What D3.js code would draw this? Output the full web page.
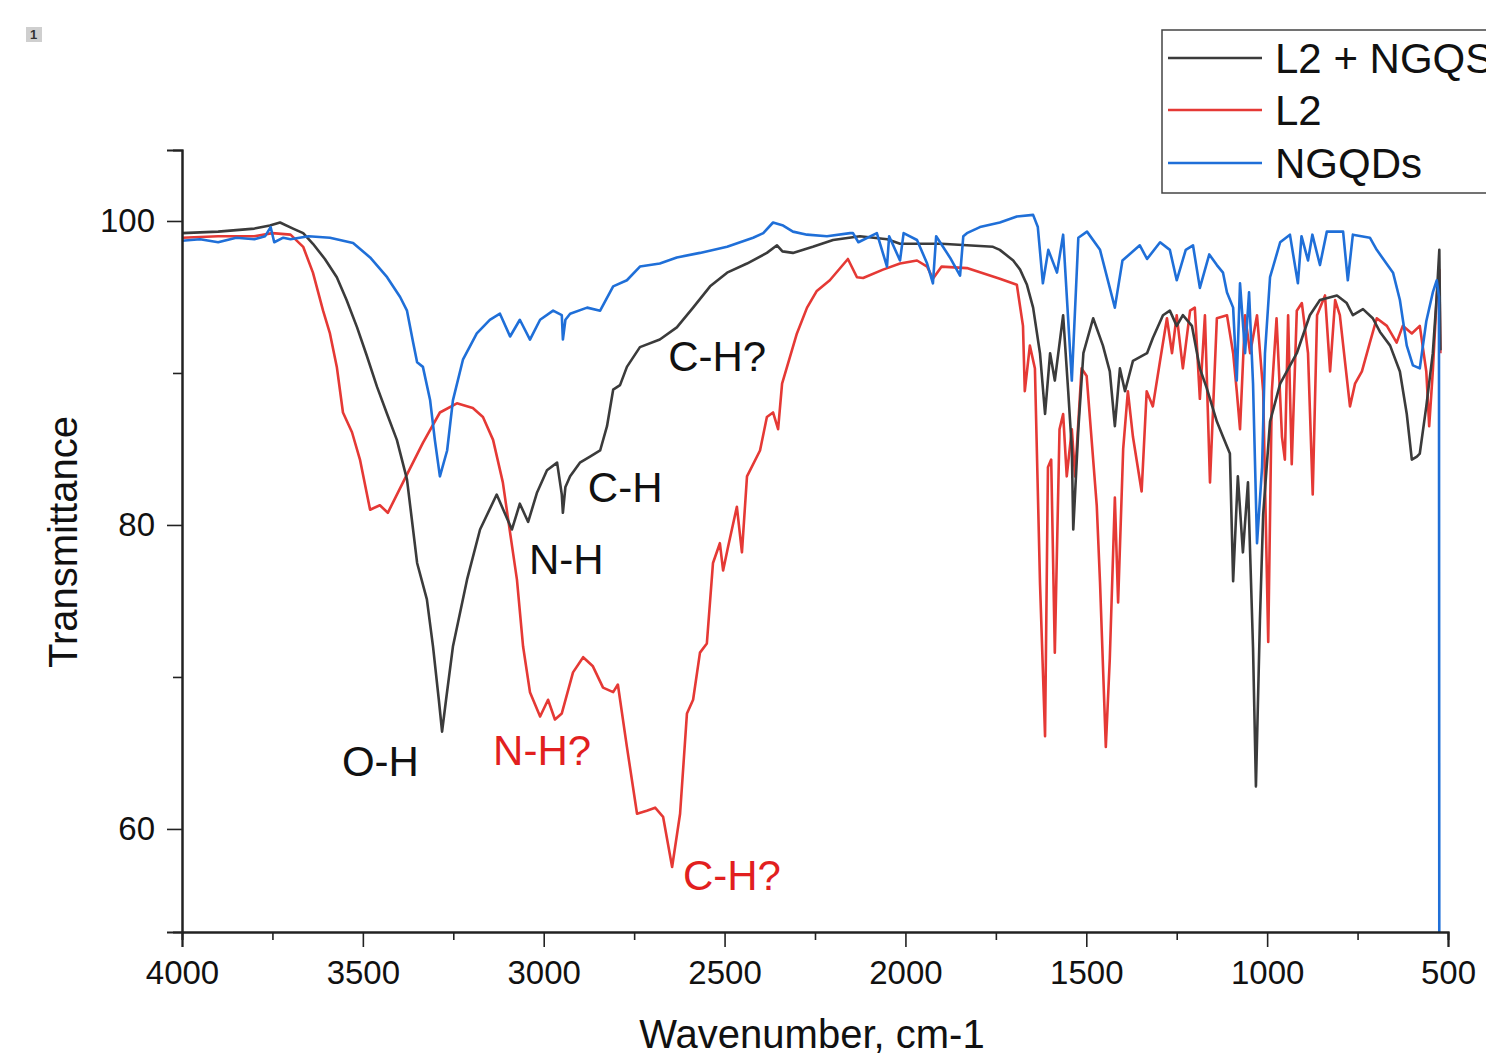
<!DOCTYPE html>
<html>
<head>
<meta charset="utf-8">
<script src="https://cdn.jsdelivr.net/npm/d3@7"></script>
<style>
  body { margin: 0; background: #fff; }
  svg text { font-family: "Liberation Sans", Arial, sans-serif; }
</style>
</head>
<body>
<svg></svg>

<script>

  // L2 + NGQS (dark grey)
  var wnMix = [4000, 3900, 3800, 3757, 3729, 3693, 3665, 3638, 3605, 3572, 3545, 3516, 3490, 3461, 3433, 3406, 3378, 3350, 3323, 3306, 3290, 3281, 3270, 3251, 3212, 3176, 3130, 3088, 3066, 3043, 3019, 2991, 2963, 2950, 2947, 2940, 2927, 2900, 2872, 2844, 2825, 2808, 2789, 2770, 2734, 2679, 2632, 2587, 2540, 2493, 2438, 2383, 2355, 2340, 2311, 2256, 2200, 2126, 2050, 2015, 1900, 1830, 1758, 1739, 1702, 1683, 1664, 1647, 1628, 1614, 1600, 1587, 1564, 1550, 1540, 1536, 1522, 1508, 1481, 1454, 1435, 1421, 1407, 1393, 1371, 1332, 1316, 1288, 1269, 1250, 1233, 1208, 1186, 1167, 1139, 1122, 1103, 1094, 1081, 1067, 1053, 1039, 1031, 1020, 1011, 992, 964, 918, 882, 854, 807, 780, 763, 735, 708, 688, 660, 633, 614, 600, 586, 578, 560, 542, 531, 524, 521];
  var tMix = [99.2, 99.3, 99.5, 99.7, 99.9, 99.5, 99.2, 98.5, 97.5, 96.3, 94.8, 93.0, 91.2, 89.1, 87.3, 85.6, 83.0, 77.5, 75.1, 72.0, 68.5, 66.4, 68.5, 72.0, 76.4, 79.7, 82.0, 79.7, 81.4, 80.2, 82.1, 83.6, 84.1, 82.0, 80.8, 82.5, 83.2, 84.1, 84.5, 84.9, 86.5, 88.9, 89.2, 90.4, 91.7, 92.2, 93.0, 94.3, 95.7, 96.6, 97.2, 97.9, 98.4, 98.0, 97.9, 98.3, 98.75, 99.0, 98.8, 98.5, 98.5, 98.4, 98.3, 98.1, 97.4, 96.8, 95.8, 94.3, 91.3, 87.3, 91.3, 89.5, 93.8, 88.8, 85.0, 79.7, 86.3, 91.3, 93.6, 91.8, 90.1, 86.5, 90.3, 88.8, 90.8, 91.3, 92.3, 93.8, 94.1, 93.1, 93.8, 93.1, 90.3, 89.0, 86.8, 85.8, 84.7, 76.3, 83.2, 78.2, 82.8, 71.9, 62.8, 73.7, 80.7, 86.8, 89.3, 91.3, 93.8, 94.8, 95.1, 94.6, 93.8, 94.2, 93.6, 92.7, 91.8, 90.1, 87.3, 84.3, 84.5, 84.7, 87.8, 91.3, 95.1, 98.1, 91.5];

  // L2 (red)
  var wnL2 = [4000, 3900, 3800, 3750, 3700, 3665, 3638, 3610, 3591, 3572, 3555, 3530, 3508, 3480, 3453, 3431, 3389, 3334, 3287, 3240, 3196, 3168, 3140, 3113, 3093, 3074, 3057, 3038, 3010, 2988, 2969, 2950, 2919, 2891, 2864, 2836, 2808, 2795, 2770, 2742, 2715, 2692, 2670, 2645, 2623, 2604, 2587, 2568, 2549, 2532, 2513, 2504, 2490, 2466, 2452, 2438, 2402, 2383, 2366, 2352, 2341, 2300, 2272, 2245, 2209, 2159, 2134, 2117, 2062, 2015, 1968, 1940, 1924, 1900, 1830, 1739, 1692, 1675, 1670, 1656, 1642, 1628, 1614, 1606, 1597, 1587, 1574, 1564, 1554, 1540, 1531, 1513, 1499, 1471, 1462, 1446, 1435, 1421, 1412, 1398, 1385, 1371, 1347, 1333, 1316, 1296, 1277, 1263, 1250, 1233, 1213, 1200, 1186, 1172, 1158, 1139, 1111, 1094, 1084, 1075, 1061, 1047, 1028, 1011, 997, 987, 974, 959, 951, 942, 932, 918, 904, 887, 874, 862, 840, 826, 812, 799, 785, 771, 757, 738, 716, 697, 669, 642, 625, 600, 578, 560, 552, 542, 531, 524, 521];
  var tL2 = [98.9, 99.0, 99.0, 99.2, 99.1, 98.3, 96.6, 94.1, 92.6, 90.4, 87.4, 86.1, 84.3, 81.0, 81.3, 80.8, 82.8, 85.4, 87.4, 88.0, 87.7, 87.1, 85.6, 82.8, 79.5, 76.4, 72.0, 69.0, 67.4, 68.5, 67.2, 67.6, 70.3, 71.3, 70.7, 69.3, 69.0, 69.5, 65.4, 61.0, 61.2, 61.4, 60.8, 57.5, 61.0, 67.6, 68.5, 71.6, 72.2, 77.5, 78.8, 77.0, 78.6, 81.2, 78.2, 83.2, 84.9, 87.1, 87.4, 86.3, 89.3, 92.6, 94.3, 95.4, 96.1, 97.5, 96.3, 96.25, 96.8, 97.2, 97.4, 97.0, 96.2, 97.0, 96.9, 96.2, 95.8, 93.1, 88.8, 91.8, 90.3, 76.2, 66.1, 83.8, 84.3, 71.6, 86.3, 87.3, 83.2, 86.3, 83.2, 90.3, 89.8, 81.25, 76.2, 65.4, 71.2, 81.8, 74.9, 85.0, 88.8, 85.8, 82.2, 88.8, 87.8, 90.8, 93.6, 91.3, 93.8, 90.3, 94.1, 94.3, 88.3, 93.8, 82.8, 93.6, 93.8, 91.3, 88.8, 86.3, 93.8, 91.3, 93.8, 88.8, 72.3, 88.8, 93.6, 85.8, 84.3, 93.8, 84.0, 94.1, 94.6, 91.3, 82.0, 93.8, 95.1, 90.1, 94.8, 93.8, 90.8, 87.8, 89.3, 90.1, 92.0, 93.6, 93.1, 92.0, 93.1, 92.6, 93.1, 90.1, 86.5, 90.1, 95.1, 96.8, 91.3];

  // NGQDs (blue)
  var wnQD = [4000, 3950, 3900, 3850, 3800, 3770, 3755, 3745, 3720, 3700, 3650, 3591, 3527, 3480, 3433, 3397, 3378, 3361, 3350, 3334, 3314, 3301, 3287, 3267, 3251, 3223, 3185, 3149, 3121, 3093, 3066, 3038, 3010, 2974, 2950, 2947, 2940, 2927, 2880, 2844, 2808, 2770, 2734, 2679, 2632, 2568, 2493, 2421, 2393, 2366, 2338, 2311, 2272, 2217, 2153, 2145, 2130, 2079, 2051, 2045, 2015, 2005, 1968, 1940, 1924, 1915, 1877, 1849, 1840, 1830, 1794, 1739, 1692, 1647, 1634, 1620, 1605, 1581, 1564, 1540, 1522, 1498, 1462, 1421, 1400, 1352, 1332, 1296, 1269, 1250, 1225, 1205, 1186, 1160, 1139, 1122, 1111, 1094, 1084, 1075, 1061, 1050, 1039, 1028, 1014, 1006, 992, 964, 937, 915, 905, 887, 875, 854, 835, 790, 777, 763, 716, 697, 652, 633, 614, 597, 578, 560, 542, 531, 525, 524];
  var tQD = [98.7, 98.8, 98.6, 98.9, 98.8, 99.0, 99.6, 98.6, 98.9, 98.8, 99.0, 98.9, 98.55, 97.6, 96.3, 95.0, 94.1, 92.0, 90.7, 90.4, 88.2, 85.6, 83.2, 84.9, 88.2, 90.9, 92.6, 93.5, 93.9, 92.4, 93.5, 92.2, 93.5, 94.1, 93.8, 92.2, 93.5, 93.9, 94.3, 94.1, 95.7, 96.1, 97.0, 97.2, 97.6, 97.9, 98.3, 98.9, 99.2, 99.9, 99.7, 99.3, 99.1, 99.0, 99.2, 99.2, 98.6, 99.2, 97.0, 99.0, 97.4, 99.2, 98.75, 97.2, 95.9, 99.0, 97.6, 96.4, 99.0, 99.2, 99.6, 99.9, 100.3, 100.4, 99.6, 95.9, 98.1, 96.6, 99.1, 89.5, 98.9, 99.3, 98.1, 94.3, 97.4, 98.4, 97.5, 98.6, 98.1, 96.1, 98.1, 98.4, 95.6, 97.8, 97.1, 96.6, 95.3, 94.3, 89.5, 95.9, 91.3, 95.3, 89.3, 78.8, 83.8, 91.3, 96.3, 98.6, 99.1, 95.9, 99.0, 97.4, 99.1, 97.1, 99.3, 99.3, 96.1, 99.1, 98.9, 98.1, 96.6, 94.8, 91.8, 90.5, 90.3, 93.4, 95.3, 96.1, 95.0, 50];

  var seriesNames = ["L2 + NGQS", "L2", "NGQDs"];
  var seriesColors = ["#3b3b3b", "#e53935", "#1f6fd8"];

  var xTicks = [4000, 3500, 3000, 2500, 2000, 1500, 1000, 500];
  var xMinor = [3750, 3250, 2750, 2250, 1750, 1250, 750];
  var yTicks = [60, 80, 100];
  var yMinor = [70, 90];

  // peak labels: text, wavenumber and transmittance of the baseline start, colour index
  var peakText = ["O-H", "N-H", "C-H", "C-H?", "N-H?", "C-H?"];
  var peakWn = [3558, 3041, 2878, 2656, 3140, 2615];
  var peakT = [63.5, 76.8, 81.5, 90.1, 64.2, 56.0];
  var peakColor = [0, 0, 0, 0, 1, 1];

  var W = 1486, H = 1058;
  var plotL = 182, plotR = 1448, plotT = 150, plotB = 932;

  var svg = d3.select("svg").attr("width", W).attr("height", H);

  var x = d3.scaleLinear().domain([4000, 500]).range([plotL, plotR]);
  var y = d3.scaleLinear().domain([53.22, 104.67]).range([plotB, plotT]);

  svg.append("clipPath").attr("id", "plot")
    .append("rect").attr("x", plotL).attr("y", plotT)
    .attr("width", plotR - plotL + 2).attr("height", plotB - plotT);

  var line = d3.line()
    .x(function(d) { return x(d[0]); })
    .y(function(d) { return y(d[1]); });

  var data = [
    d3.zip(wnMix, tMix),
    d3.zip(wnL2, tL2),
    d3.zip(wnQD, tQD)
  ];

  // curves, red first so black and blue sit on top like the original
  var order = [1, 0, 2];
  svg.append("g").attr("clip-path", "url(#plot)")
    .selectAll("path").data(order).enter()
    .append("path")
    .attr("d", function(i) { return line(data[i]); })
    .attr("fill", "none")
    .attr("stroke", function(i) { return seriesColors[i]; })
    .attr("stroke-width", 2.6)
    .attr("stroke-linejoin", "round");

  // axes
  svg.append("g").attr("transform", "translate(0," + plotB + ")")
    .call(d3.axisBottom(x).tickValues(xTicks).tickSize(15).tickPadding(14).tickFormat(d3.format("d")));
  svg.append("g").attr("transform", "translate(0," + plotB + ")")
    .call(d3.axisBottom(x).tickValues(xMinor).tickSize(8).tickFormat(""));
  svg.append("g").attr("transform", "translate(" + plotL + ",0)")
    .call(d3.axisLeft(y).tickValues(yTicks).tickSize(15).tickPadding(12).tickFormat(d3.format("d")));
  svg.append("g").attr("transform", "translate(" + plotL + ",0)")
    .call(d3.axisLeft(y).tickValues(yMinor).tickSize(9).tickFormat(""));

  svg.selectAll(".domain").attr("stroke", "#222").attr("stroke-width", 2);
  svg.selectAll(".tick line").attr("stroke", "#222").attr("stroke-width", 1.6);
  svg.selectAll(".tick text").attr("font-size", 33).attr("fill", "#111")
    .attr("font-family", "Liberation Sans, Arial, sans-serif");

  // axis titles
  svg.append("text")
    .attr("x", (plotL + plotR) / 2 - 3).attr("y", 1048)
    .attr("text-anchor", "middle").attr("font-size", 40).attr("fill", "#111")
    .text("Wavenumber, cm-1");
  svg.append("text")
    .attr("transform", "translate(77,542) rotate(-90)")
    .attr("text-anchor", "middle").attr("font-size", 40).attr("fill", "#111")
    .text("Transmittance");

  // peak annotations
  svg.selectAll(".peak").data(peakText).enter()
    .append("text").attr("class", "peak")
    .attr("x", function(d, i) { return x(peakWn[i]); })
    .attr("y", function(d, i) { return y(peakT[i]); })
    .attr("font-size", 42)
    .attr("fill", function(d, i) { return peakColor[i] ? "#e21f1f" : "#111"; })
    .text(function(d) { return d; });

  // legend (box runs off the right edge, as in the original)
  var legend = svg.append("g");
  legend.append("rect")
    .attr("x", 1162).attr("y", 30).attr("width", 400).attr("height", 163)
    .attr("fill", "#fff").attr("stroke", "#444").attr("stroke-width", 1.5);
  var rows = legend.selectAll(".row").data(seriesNames).enter()
    .append("g").attr("class", "row")
    .attr("transform", function(d, i) { return "translate(0," + [58, 110, 163][i] + ")"; });
  rows.append("line")
    .attr("x1", 1168).attr("x2", 1262)
    .attr("stroke", function(d, i) { return seriesColors[i]; })
    .attr("stroke-width", 2.6);
  rows.append("text")
    .attr("x", 1275).attr("y", 15)
    .attr("font-size", 42).attr("fill", "#111")
    .text(function(d) { return d; });

  // little page marker in the corner
  svg.append("rect").attr("x", 26).attr("y", 27).attr("width", 16).attr("height", 15).attr("fill", "#cfcfcf");
  svg.append("text").attr("x", 30).attr("y", 39).attr("font-size", 13).attr("font-weight", "bold").attr("fill", "#333").text("1");

</script>
</body>
</html>
